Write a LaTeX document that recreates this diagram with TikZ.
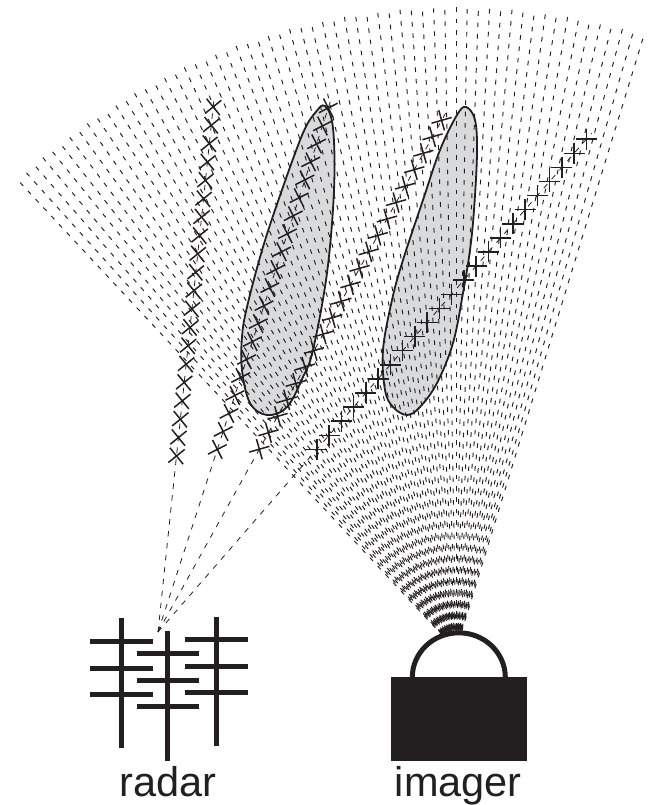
\documentclass[tikz,border=0pt]{standalone}
\usepackage{fontspec}
\setmainfont{Liberation Sans}
\definecolor{Ink}{HTML}{231F20}
\definecolor{Lobe}{HTML}{D9DADC}
\tikzset{
 ray/.style={draw=Ink,line width=.95pt,dash pattern=on 4.6pt off 6.8pt},
 beam/.style={draw=Ink,line width=.8pt,dash pattern=on 5.5pt off 6.5pt},
 xmark/.style={draw=Ink,line width=1.5pt},
 lobe/.style={draw=Ink,line width=1.8pt},
 bar/.style={draw=Ink,line width=5pt},
 lab/.style={anchor=base,inner sep=0pt,text=Ink,font=\fontsize{41.5}{48}\selectfont}
}
\newcommand{\lobeleft}{(325,106) (333,128) (334,190) (327,273) (313,350) (303,377) (287,407) (267,415) (250,403) (242,370) (242,337) (247,307) (263,247) (283,187) (303,133) (315,113)}
\newcommand{\loberight}{(466,107) (475,120) (477,153) (474,210) (470,250) (463,293) (453,343) (437,383) (420,407) (407,415) (393,407) (385,390) (383,350) (392,300) (403,260) (423,200) (440,150) (457,115)}
\begin{document}
\begin{tikzpicture}[x=1pt,y=-1pt]
\useasboundingbox (0,0) rectangle (651,805);
\coordinate (radar) at (158,632);
\coordinate (imager) at (456,650);
% lobes, filled first so the dashes stay visible
\fill[Lobe] plot[smooth cycle,tension=.6] coordinates {\lobeleft};
\fill[Lobe] plot[smooth cycle,tension=.6] coordinates {\loberight};
% imager fan
\foreach \a in {0,...,60}{
 \pgfmathsetmacro{\st}{19+mod(\a*3,5)*.9}
 \pgfmathsetmacro{\len}{645-\st}
 \draw[ray] (imager) ++(-133+\a:\st) -- ++(-133+\a:\len);
}
% radar beams and their tracks
\foreach \a/\ra/\rb/\n/\t in {6/177/528/19/0,18/192/551/19/0,29/209/585/20/0,41/242/653/22/4}{
 \pgfmathsetmacro{\len}{\rb+8}
 \draw[beam] (radar) -- ++(-90+\a:\len);
 \foreach \i in {0,...,\n}{
  \pgfmathsetmacro{\rr}{\ra+(\rb-\ra)*\i/\n}
  \draw[xmark] (radar) ++(-90+\a:\rr) ++(-45+\a+\t:10.5) -- ++(135+\a+\t:21);
  \draw[xmark] (radar) ++(-90+\a:\rr) ++(-135+\a+\t:10.5) -- ++(45+\a+\t:21);
 }
}
\draw[lobe] plot[smooth cycle,tension=.6] coordinates {\lobeleft};
\draw[lobe] plot[smooth cycle,tension=.6] coordinates {\loberight};
% radar antenna
\foreach \x/\ya/\yb in {121/618/748,167.3/631/760.7,216/617/746} \draw[bar] (\x,\ya) -- (\x,\yb);
\foreach \xa/\xb/\y in {90/152.7/641,90/152.7/668.3,90/152.7/694,136.7/199.3/653.3,136.7/199.3/680.7,136.7/199.3/706.3,185/247.7/639.3,185/247.7/666.7,185/247.7/692.3} \draw[bar] (\xa,\y) -- (\xb,\y);
% imager body
\fill[white] (412.3,677.3) arc[start angle=180,end angle=0,x radius=46.5pt,y radius=44.5pt] -- cycle;
\draw[bar] (412.3,677.3) arc[start angle=180,end angle=0,x radius=46.5pt,y radius=44.5pt];
\fill[Ink] (390.7,677.3) rectangle (527.3,760.7);
\node[lab] (radarlabel) at (168,796.7) {radar};
\node[lab] (imagerlabel) at (458.3,796.7) {imager};
\end{tikzpicture}
\end{document}
